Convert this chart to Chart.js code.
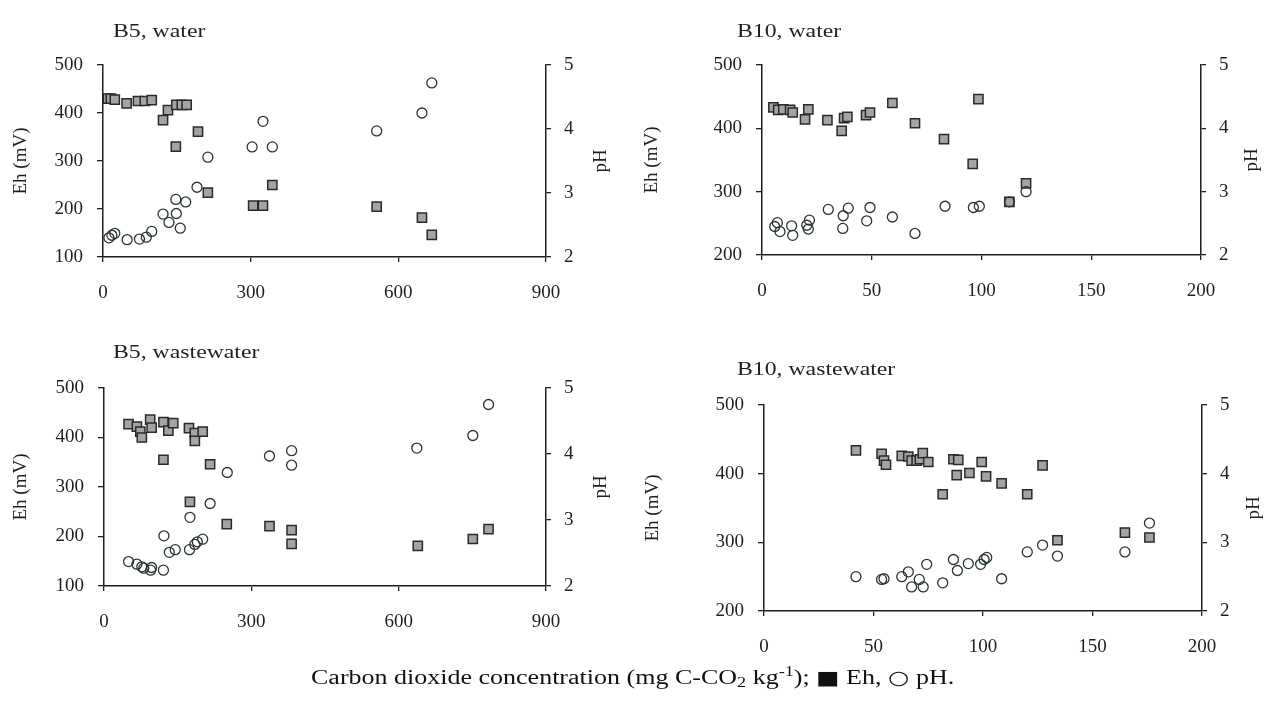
<!DOCTYPE html>
<html>
<head>
<meta charset="utf-8">
<script src="https://cdn.jsdelivr.net/npm/chart.js@4.4.0/dist/chart.umd.min.js"></script>
<style>
  body { margin: 0; background: #fff; width: 1265px; height: 704px; position: relative; overflow: hidden; font-family: "Liberation Serif", serif; }
  canvas { position: absolute; }
  #caption { position: absolute; left: 0; width: 1265px; top: 664px; text-align: center; font-size: 20px; color: #111; white-space: nowrap; transform: scaleX(1.3); transform-origin: 632px 0; }
  #caption sub { font-size: 14px; vertical-align: -3px; }
  #caption sup { font-size: 14px; vertical-align: 8px; }
  #caption .sym { font-family: "DejaVu Sans", sans-serif; font-size: 19px; line-height: 1; }
</style>
</head>
<body>
<canvas id="b5water"></canvas>
<canvas id="b10water"></canvas>
<canvas id="b5waste"></canvas>
<canvas id="b10waste"></canvas>
<div id="caption">Carbon dioxide concentration (mg C-CO<sub>2</sub> kg<sup>-1</sup>); <span class="sym">■</span> Eh, <span class="sym">○</span> pH.</div>
<script>
// B5, water
const b5WaterEhX = [10, 16, 24, 48, 71, 85, 99, 122, 132, 149, 160, 170, 148, 193, 213, 305, 325, 344, 556, 648, 668];
const b5WaterEh  = [430, 430, 428, 420, 425, 425, 427, 385, 406, 417, 417, 417, 330, 361, 234, 207, 207, 250, 205, 182, 146];
const b5WaterPhX = [12, 18, 24, 49, 74, 88, 99, 122, 134, 148, 149, 157, 168, 191, 213, 303, 325, 344, 556, 648, 668];
const b5WaterPh  = [2.30, 2.34, 2.37, 2.27, 2.28, 2.31, 2.40, 2.67, 2.54, 2.90, 2.68, 2.45, 2.86, 3.09, 3.56, 3.72, 4.12, 3.72, 3.97, 4.25, 4.72];

// B10, water
const b10WaterEhX = [5.2, 7.4, 9.7, 12.8, 14, 19.6, 21.1, 29.8, 36.3, 37.4, 38.9, 47.4, 49.2, 59.4, 69.7, 82.9, 96, 98.6, 112.7, 120.3];
const b10WaterEh  = [433, 429, 430, 429, 425, 414, 430, 413, 396, 416, 418, 421, 425, 440, 408, 383, 344, 446, 284, 313];
const b10WaterPhX = [5.8, 7, 8.2, 13.5, 14, 20.4, 21.1, 21.6, 30.2, 36.8, 37, 39.3, 47.7, 49.2, 59.4, 69.7, 83.4, 96.3, 99, 112.7, 120.3];
const b10WaterPh  = [2.45, 2.51, 2.37, 2.46, 2.31, 2.47, 2.41, 2.55, 2.72, 2.42, 2.62, 2.74, 2.54, 2.75, 2.60, 2.34, 2.77, 2.75, 2.77, 2.84, 3.00];

// B5, wastewater
const b5WasteEhX = [50, 67, 74, 77, 94, 97, 121, 131, 141, 121, 173, 185, 185, 201, 216, 175, 250, 337, 382, 382, 639, 751, 783];
const b5WasteEh  = [427, 422, 412, 400, 436, 420, 431, 414, 429, 355, 419, 409, 393, 412, 346, 270, 225, 221, 213, 185, 181, 195, 215];
const b5WastePhX = [50, 67, 77, 81, 95, 97, 121, 122, 133, 145, 174, 175, 185, 190, 201, 216, 251, 337, 382, 382, 637, 751, 783];
const b5WastePh  = [2.37, 2.33, 2.29, 2.27, 2.24, 2.28, 2.24, 2.76, 2.51, 2.55, 2.55, 3.04, 2.63, 2.67, 2.71, 3.25, 3.72, 3.97, 4.05, 3.83, 4.09, 4.28, 4.75];

// B10, wastewater
const b10WasteEhX = [42, 53.7, 54.8, 55.7, 62.9, 65.9, 67.4, 69.7, 71.2, 72.5, 75, 81.6, 86.5, 88.7, 88, 93.8, 99.4, 101.4, 108.5, 120.2, 127.2, 134, 164.8, 176];
const b10WasteEh  = [434, 429, 419, 413, 426, 425, 419, 419, 421, 430, 417, 370, 421, 420, 398, 401, 417, 396, 386, 370, 412, 303, 314, 307];
const b10WastePhX = [42, 53.7, 54.8, 62.9, 65.9, 67.4, 70.9, 72.7, 74.3, 81.6, 86.5, 88.3, 93.3, 98.9, 100.5, 101.7, 108.5, 120.2, 127.2, 134, 164.8, 176];
const b10WastePh  = [2.50, 2.46, 2.47, 2.50, 2.57, 2.35, 2.46, 2.35, 2.68, 2.41, 2.75, 2.59, 2.69, 2.68, 2.75, 2.78, 2.47, 2.86, 2.96, 2.80, 2.86, 3.28];

// tick ranges
const ehTicksB5 = [100, 500];
const ehTicksB10 = [200, 500];
const phTicks = [2, 5];
const xTicksB5 = [0, 900, 300];
const xTicksB10 = [0, 200, 50];

const FONT = '"Liberation Serif", "Times New Roman", serif';
const INK = '#1f1f1f';

// titre du panneau (un peu étiré comme l'original) + "pH" tourné comme "Eh (mV)"
const panelText = {
    id: 'panelText',
    afterDraw(chart, args, opts) {
        const ctx = chart.ctx;
        ctx.save();
        ctx.font = '19px ' + FONT;
        ctx.fillStyle = INK;
        ctx.textBaseline = 'alphabetic';
        ctx.textAlign = 'left';
        ctx.translate(opts.titleX, opts.titleY);
        ctx.scale(1.25, 1);
        ctx.fillText(opts.title, 0, 0);
        ctx.restore();

        ctx.save();
        ctx.font = '19px ' + FONT;
        ctx.fillStyle = INK;
        ctx.translate(opts.phX, (chart.chartArea.top + chart.chartArea.bottom) / 2);
        ctx.rotate(-Math.PI / 2);
        ctx.textAlign = 'center';
        ctx.textBaseline = 'middle';
        ctx.fillText('pH', 0, 0);
        ctx.restore();
    }
};

function pairs(xs, ys) {
    return xs.map((x, i) => ({ x: x, y: ys[i] }));
}

function makePanel(id, box, area, text, ehX, eh, phX, ph, ehRange, xRange) {
    const canvas = document.getElementById(id);
    canvas.width = box.w;
    canvas.height = box.h;
    canvas.style.left = box.left + 'px';
    canvas.style.top = box.top + 'px';

    const axisLine = { display: true, color: INK, width: 1.5 };
    const tickFont = { family: FONT, size: 19 };

    new Chart(canvas, {
        type: 'scatter',
        data: {
            datasets: [{
                label: 'Eh',
                data: pairs(ehX, eh),
                yAxisID: 'y',
                pointStyle: 'rect',
                pointRadius: 6.5,
                backgroundColor: '#a4a4a4',
                borderColor: '#2a2a2a',
                borderWidth: 1.5,
                order: 2
            }, {
                label: 'pH',
                data: pairs(phX, ph),
                yAxisID: 'y1',
                pointStyle: 'circle',
                pointRadius: 5,
                backgroundColor: 'rgba(255,255,255,0)',
                borderColor: '#2a3434',
                borderWidth: 1.3,
                order: 1
            }]
        },
        options: {
            responsive: false,
            animation: false,
            layout: { padding: { top: area.t - box.top, left: 0, right: 0, bottom: 0 } },
            plugins: {
                legend: { display: false },
                tooltip: { enabled: false },
                panelText: {
                    title: text.title,
                    titleX: text.x - box.left,
                    titleY: text.y - box.top,
                    phX: text.phX - box.left
                }
            },
            scales: {
                x: {
                    type: 'linear',
                    min: xRange[0], max: xRange[1],
                    ticks: { stepSize: xRange[2], color: INK, font: tickFont, padding: 20 },
                    grid: { drawOnChartArea: false, tickLength: 5, color: INK, lineWidth: 1.3 },
                    border: axisLine,
                    afterFit: s => { s.height = box.top + box.h - area.b; }
                },
                y: {
                    position: 'left',
                    min: ehRange[0], max: ehRange[1],
                    ticks: { stepSize: 100, color: INK, font: tickFont, padding: 14 },
                    grid: { drawOnChartArea: false, tickLength: 6, color: INK, lineWidth: 1.3 },
                    border: axisLine,
                    title: { display: true, text: 'Eh (mV)', color: INK, font: { family: FONT, size: 19 }, padding: { top: text.ehPad, bottom: 0 } },
                    afterFit: s => { s.width = area.l - box.left; }
                },
                y1: {
                    position: 'right',
                    min: phTicks[0], max: phTicks[1],
                    ticks: { stepSize: 1, color: INK, font: tickFont, padding: 13 },
                    grid: { drawOnChartArea: false, tickLength: 5, color: INK, lineWidth: 1.3 },
                    border: axisLine,
                    afterFit: s => { s.width = box.left + box.w - area.r; }
                }
            }
        },
        plugins: [panelText]
    });
}

document.addEventListener('DOMContentLoaded', function() {
    makePanel('b5water',
        { left: 0, top: 0, w: 625, h: 320 },
        { l: 103, r: 546, t: 65, b: 257 },
        { title: 'B5, water', x: 113, y: 37, phX: 601, ehPad: 10 },
        b5WaterEhX, b5WaterEh, b5WaterPhX, b5WaterPh, ehTicksB5, xTicksB5);

    makePanel('b10water',
        { left: 630, top: 0, w: 635, h: 320 },
        { l: 762, r: 1201, t: 65, b: 255 },
        { title: 'B10, water', x: 737, y: 37, phX: 1252, ehPad: 11 },
        b10WaterEhX, b10WaterEh, b10WaterPhX, b10WaterPh, ehTicksB10, xTicksB10);

    makePanel('b5waste',
        { left: 0, top: 325, w: 625, h: 320 },
        { l: 104, r: 546, t: 388, b: 586 },
        { title: 'B5, wastewater', x: 113, y: 358, phX: 601, ehPad: 10 },
        b5WasteEhX, b5WasteEh, b5WastePhX, b5WastePh, ehTicksB5, xTicksB5);

    makePanel('b10waste',
        { left: 630, top: 325, w: 635, h: 340 },
        { l: 764, r: 1202, t: 405, b: 611 },
        { title: 'B10, wastewater', x: 737, y: 375, phX: 1254, ehPad: 12 },
        b10WasteEhX, b10WasteEh, b10WastePhX, b10WastePh, ehTicksB10, xTicksB10);
});
</script>
</body>
</html>
